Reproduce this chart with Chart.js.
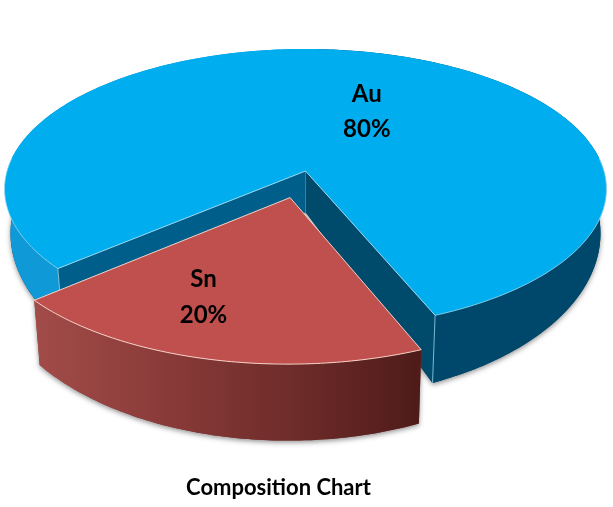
<!DOCTYPE html>
<html><head><meta charset="utf-8">
<style>html,body{margin:0;padding:0;background:#fff;overflow:hidden}canvas{display:block}</style>
<script src="https://cdn.jsdelivr.net/npm/chart.js@4"></script>
</head><body><canvas id="c" width="613" height="507"></canvas>
<script>
const categories = ['Au', 'Sn'];
const shares = [80, 20];
const explode = [0, 0.195];
const topColors = ['#00ADEF', '#C0504D'];
const edgeColors = ['rgba(175,230,250,.9)', 'rgba(250,215,205,.95)'];
const chartTitle = 'Composition Chart';

// Projection of the pie's plane (perspective) – style only
const cx = 305.5, topY = 171, botY = 212, ax = 298.5, byTop = 137.7, byBot = 163, k = 0.1285, shrink = 0.98;
const labelPlace = [{r:.505, shift:12}, {r:.68, shift:9}];
const explodeTurn = 1.5 * Math.PI / 180;

function proj(u, v, low){
  const w = 1 - k*v;
  return low ? [cx + shrink*ax*u/w, botY + byBot*v/w] : [cx + ax*u/w, topY + byTop*v/w];
}
function rimPts(a0, a1, ox, oy, low){
  const pts = [], n = Math.max(2, Math.ceil(Math.abs(a1-a0)/0.015));
  for(let i=0;i<=n;i++){const t=a0+(a1-a0)*i/n; pts.push(proj(Math.cos(t)+ox, Math.sin(t)+oy, low));}
  return pts;
}
function poly(ctx, pts, fill, stroke, lw){
  ctx.beginPath(); pts.forEach((p,i)=>i?ctx.lineTo(p[0],p[1]):ctx.moveTo(p[0],p[1])); ctx.closePath();
  if(fill){ctx.fillStyle=fill;ctx.fill();}
  if(stroke){ctx.strokeStyle=stroke;ctx.lineWidth=lw||1;ctx.stroke();}
}
function line(ctx, pts, stroke, lw){
  ctx.beginPath(); pts.forEach((p,i)=>i?ctx.lineTo(p[0],p[1]):ctx.moveTo(p[0],p[1]));
  ctx.strokeStyle=stroke;ctx.lineWidth=lw||1;ctx.stroke();
}
function hgrad(ctx,x0,x1,stops){const g=ctx.createLinearGradient(x0,0,x1,0);stops.forEach((c,i)=>g.addColorStop(i/(stops.length-1),c));return g;}

const pie3d = {
  id:'pie3d',
  beforeDatasetDraw(chart,args){
    const ctx = chart.ctx, arcs = chart.getDatasetMeta(0).data;
    const g = arcs.map(a=>a.getProps(['startAngle','endAngle'],true));
    ctx.save();
    // ---- first slice (large, not exploded)
    const s0=g[0].startAngle, e0=g[0].endAngle, split=1.5*Math.PI;
    const c0=proj(0,0,false), c0L=proj(0,0,true);
    const upA=rimPts(s0,e0,0,0,false), loA=rimPts(s0,e0,0,0,true);
    ctx.save();
    ctx.shadowColor='rgba(60,60,60,.55)';ctx.shadowBlur=5;ctx.shadowOffsetX=0;ctx.shadowOffsetY=2;
    poly(ctx,[c0L,...loA],'#00466A');
    ctx.restore();
    poly(ctx,[...rimPts(s0,split,0,0,false),...rimPts(split,s0,0,0,true)],'#0F99D6');
    poly(ctx,[...rimPts(split,e0,0,0,false),...rimPts(e0,split,0,0,true)],'#00486B');
    const pS=proj(Math.cos(s0),Math.sin(s0),false), pSL=proj(Math.cos(s0),Math.sin(s0),true);
    const pE=proj(Math.cos(e0),Math.sin(e0),false), pEL=proj(Math.cos(e0),Math.sin(e0),true);
    poly(ctx,[c0,pS,pSL,c0L],'#005F8A');
    poly(ctx,[c0,pE,pEL,c0L],'#004A6C');
    line(ctx,[c0,c0L],'rgba(120,190,220,.45)',1);
    line(ctx,[pE,pEL],'rgba(150,215,240,.8)',1);
    line(ctx,[pS,pSL],'rgba(170,225,245,.7)',1);
    poly(ctx,[c0,...upA],topColors[0]);
    line(ctx,[pS,c0,pE],edgeColors[0],1);
    line(ctx,rimPts(s0,Math.PI*1.03,0,0,false),edgeColors[0],.8);
    line(ctx,rimPts(Math.PI*1.97,e0,0,0,false),edgeColors[0],.8);

    // ---- second slice (exploded)
    const mid=(g[1].startAngle+g[1].endAngle)/2+explodeTurn;
    const ox=Math.cos(mid)*explode[1], oy=Math.sin(mid)*explode[1];
    const s1=g[1].startAngle, e1=g[1].endAngle;
    const up=rimPts(s1,e1,ox,oy,false), lo=rimPts(s1,e1,ox,oy,true);
    ctx.save();
    ctx.shadowColor='rgba(60,60,60,.55)';ctx.shadowBlur=5;ctx.shadowOffsetY=2;
    poly(ctx,[...up,...lo.slice().reverse()],'#7a3533');
    ctx.restore();
    poly(ctx,[...up,...lo.slice().reverse()],hgrad(ctx,up[up.length-1][0],up[0][0],['#A24C49','#8A3B39','#6E2C2A','#4E1B19']));
    const ap=proj(ox,oy,false);
    poly(ctx,[ap,...up],topColors[1]);
    line(ctx,[up[up.length-1],ap,up[0]],edgeColors[1],1);
    line(ctx,up,edgeColors[1],1);

    // ---- labels
    ctx.fillStyle='#000';ctx.font='bold 24px Lato';ctx.textAlign='center';ctx.textBaseline='middle';
    g.forEach((a,i)=>{
      const m=(a.startAngle+a.endAngle)/2, q=labelPlace[i], t=m+q.shift*Math.PI/180;
      const mo=explode[i];
      const p=proj(q.r*Math.cos(t)+Math.cos(m)*mo, q.r*Math.sin(t)+Math.sin(m)*mo,false);
      ctx.fillText(categories[i],p[0],p[1]-17.5);
      ctx.fillText(shares[i]+'%',p[0],p[1]+18);
    });
    ctx.restore();
    return false;
  }
};

new Chart(document.getElementById('c'),{
  type:'pie',
  data:{labels:categories,datasets:[{data:shares,backgroundColor:topColors,borderWidth:0}]},
  plugins:[pie3d],
  options:{
    responsive:false,animation:false,rotation:229.5,
    layout:{padding:{bottom:6,right:56}},
    plugins:{
      legend:{display:false},tooltip:{enabled:false},
      title:{display:true,text:chartTitle,position:'bottom',color:'#000',
        font:{family:'Lato',size:22,weight:'bold'},padding:{top:0,bottom:0}}
    }
  }
});
</script>
</body></html>
